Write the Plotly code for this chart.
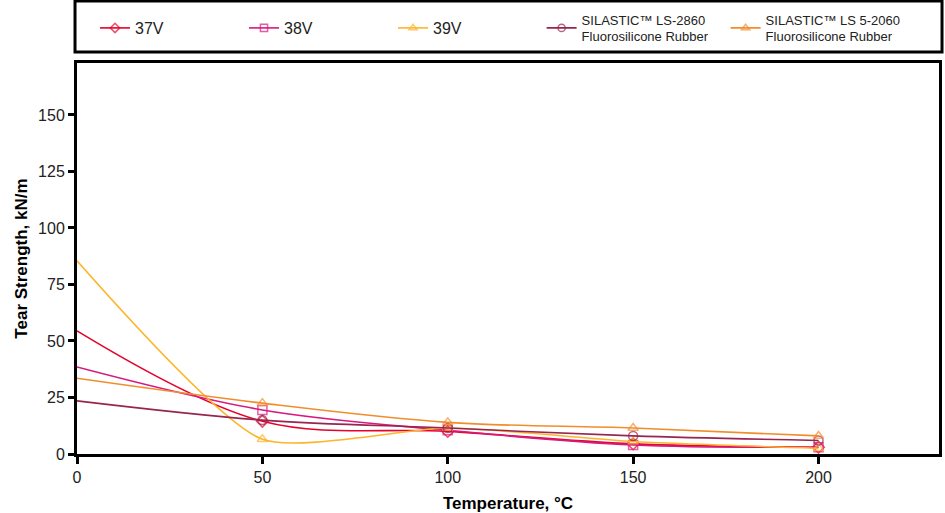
import plotly.graph_objects as go

temps = [0, 50, 100, 150, 200]
v37 = [54.5, 14.5, 10.0, 4.5, 3.0]
v38 = [38.5, 19.5, 10.5, 4.0, 3.0]
v39 = [85.5, 6.5, 11.5, 5.5, 2.5]
ls2860 = [23.5, 15.0, 11.5, 8.0, 6.0]
ls52060 = [33.5, 22.5, 14.0, 11.5, 8.0]

names = ["37V", "38V", "39V",
         "SILASTIC™ LS-2860<br>Fluorosilicone Rubber",
         "SILASTIC™ LS 5-2060<br>Fluorosilicone Rubber"]
series = [v37, v38, v39, ls2860, ls52060]
colors = ["#e4032c", "#d7197f", "#fdb52b", "#962550", "#f28d2d"]
symbols = ["diamond-open", "square-open", "triangle-up-open", "circle-open", "triangle-up-open"]
legends = ["legend", "legend", "legend", "legend2", "legend2"]
smooth = [1.0, 1.0, 0.6, 1.0, 1.0]

FONT = "Liberation Sans, Arial, sans-serif"

fig = go.Figure()
for name, vals, col, sym, lg, sm in zip(names, series, colors, symbols, legends, smooth):
    fig.add_trace(go.Scatter(
        x=temps, y=vals, name=name, mode="lines+markers",
        line=dict(color=col, width=1.6, shape="spline", smoothing=sm),
        marker=dict(symbol=sym, size=[0, 9, 9, 9, 9], color=col,
                    line=dict(width=1.5, color=col)),
        legend=lg,
    ))

fig.update_layout(
    width=945, height=513,
    margin=dict(l=77, r=6, t=63, b=59, autoexpand=False),
    plot_bgcolor="white", paper_bgcolor="white",
    font=dict(family=FONT, color="#222222", size=16),
    xaxis=dict(range=[0, 232.5], tickvals=[0, 50, 100, 150, 200],
               showline=True, linecolor="black", linewidth=3, mirror=True,
               ticks="outside", tickwidth=3, ticklen=7, tickcolor="black",
               showgrid=False, zeroline=False,
               tickfont=dict(size=16, color="#222"),
               title=dict(text="<b>Temperature, °C</b>", font=dict(size=17, color="black"), standoff=17)),
    yaxis=dict(range=[0, 173], tickvals=[0, 25, 50, 75, 100, 125, 150],
               showline=True, linecolor="black", linewidth=3, mirror=True,
               ticks="outside", tickwidth=3, ticklen=6, tickcolor="black",
               showgrid=False, zeroline=False,
               tickfont=dict(size=16, color="#222"),
               title=dict(text="<b>Tear Strength, kN/m</b>", font=dict(size=17, color="black"), standoff=7)),
    legend=dict(orientation="h", x=0.0209, xanchor="left", y=1.0895, yanchor="middle",
                font=dict(size=16, family=FONT, color="#222"),
                entrywidth=104, entrywidthmode="pixels",
                bgcolor="rgba(0,0,0,0)", borderwidth=0),
    legend2=dict(orientation="h", x=0.539, xanchor="left", y=1.0895, yanchor="middle",
                 font=dict(size=13, family=FONT, color="#222"),
                 entrywidth=139, entrywidthmode="pixels",
                 bgcolor="rgba(0,0,0,0)", borderwidth=0),
    shapes=[dict(type="rect", xref="paper", yref="paper",
                 x0=-0.0023, x1=1.0035, y0=1.028, y1=1.1586,
                 line=dict(color="black", width=3), fillcolor="rgba(0,0,0,0)")],
    showlegend=True,
)

fig.write_html("out.html", config={"displayModeBar": False},
               post_script="document.body.style.margin='0';document.body.style.overflow='hidden';")
